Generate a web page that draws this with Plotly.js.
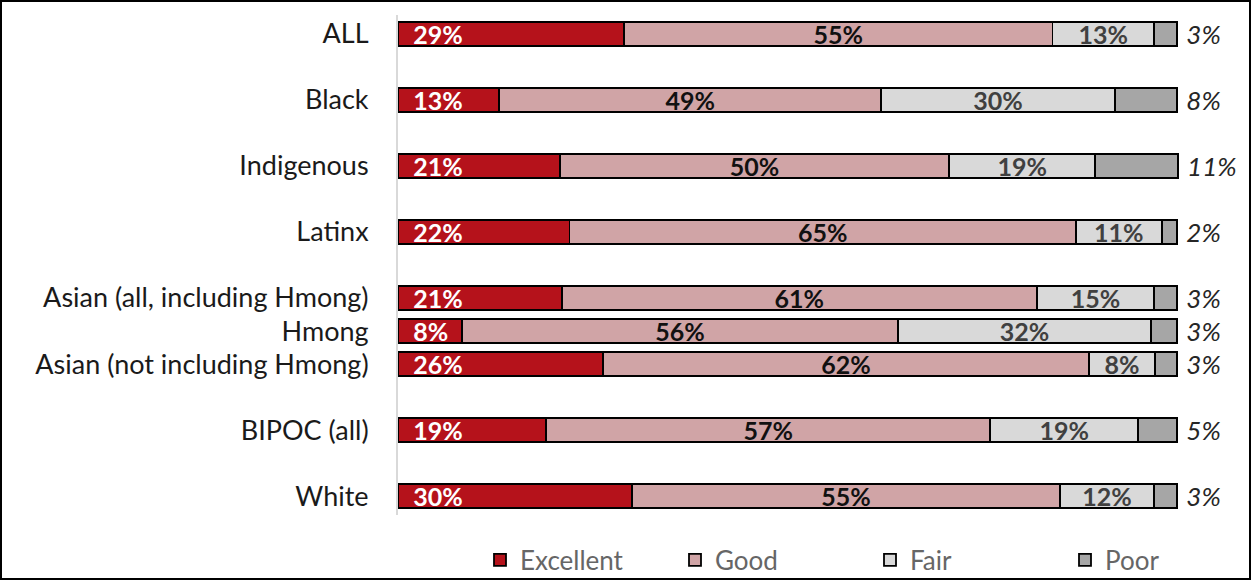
<!DOCTYPE html>
<html><head><meta charset="utf-8">
<script src="https://cdn.plot.ly/plotly-3.0.1.min.js"></script>
<style>
html,body{margin:0;padding:0;background:#fff;}
#wrap{position:relative;width:1251px;height:580px;}
#chart{width:1251px;height:580px;}
#frame{position:absolute;left:0;top:0;width:1251px;height:580px;box-sizing:border-box;border:2px solid #000;pointer-events:none;}
</style></head>
<body><div id="wrap"><div id="chart"></div><div id="frame"></div></div>
<script>
// ---- data ----
const categories = ["ALL","Black","Indigenous","Latinx","Asian (all, including Hmong)","Hmong","Asian (not including Hmong)","BIPOC (all)","White"];
const excellent = [29, 13, 20.8, 22, 21, 8.2, 26.3, 19, 30];
const good      = [55, 49, 49.9, 65, 61, 56.0, 62.4, 57, 55];
const fair      = [13, 30, 18.8, 11, 15, 32.4, 8.4, 19, 12];
const poor      = [3,  8,  10.6, 2,  3,  3.4, 2.9,  5,  3];
const seriesNames = ["Excellent","Good","Fair","Poor"];
// blank spacer slots inserted after these categories (layout only)
const spacerAfter = ["ALL","Black","Indigenous","Latinx","Asian (not including Hmong)","BIPOC (all)"];

const slots = [];
let sp = 0;
categories.forEach(c => { slots.push(c); if (spacerAfter.includes(c)) { sp++; slots.push(" ".repeat(sp)); } });

const FONT = "Lato, 'Open Sans', sans-serif";
const colors = ["#B5121B","#D0A4A6","#D9D9D9","#A6A6A6"];
const vals = [excellent, good, fair, poor];

const traces = vals.map((v, i) => {
  const t = {
    type: "bar", orientation: "h", name: seriesNames[i],
    y: categories, x: v,
    marker: {color: colors[i], line: {color: "#000", width: 1.8}},
    texttemplate: "%{x:.0f}%",
    hoverinfo: "skip",
    cliponaxis: false,
    constraintext: "none",
  };
  if (i === 0) {
    t.texttemplate = "\u00a0\u00a0%{x:.0f}%";
    t.textposition = "inside"; t.insidetextanchor = "start";
    t.insidetextfont = {family: FONT, size: 25, color: "#fff", weight: 700};
  } else if (i === 1) {
    t.textposition = "inside"; t.insidetextanchor = "middle";
    t.insidetextfont = {family: FONT, size: 25, color: "#111", weight: 700};
  } else if (i === 2) {
    t.textposition = "inside"; t.insidetextanchor = "middle";
    t.insidetextfont = {family: FONT, size: 25, color: "#404040", weight: 700};
  } else {
    t.texttemplate = "\u00a0%{x:.0f}%";
    t.textposition = "outside";
    t.outsidetextfont = {family: FONT, size: 26, color: "#262626", style: "italic"};
  }
  return t;
});

const layout = {
  width: 1251, height: 580,
  margin: {l: 398, r: 66, t: 15, b: 65, autoexpand: false},
  paper_bgcolor: "#fff", plot_bgcolor: "#fff",
  barmode: "stack", bargap: 0.27,
  showlegend: true,
  legend: {orientation: "h", x: (480 - 398) / 787, xanchor: "left", y: -0.09, yanchor: "middle",
           font: {family: FONT, size: 26, color: "#666"}, entrywidth: 150, traceorder: "normal"},
  xaxis: {range: [0, 101], showgrid: false, zeroline: false, showticklabels: false, showline: false, fixedrange: true},
  yaxis: {type: "category", categoryorder: "array", categoryarray: slots,
          range: [slots.length - 0.5 + 0.07, -0.5 - 0.07],
          showgrid: false, zeroline: false, showline: true, linecolor: "#D9D9D9", linewidth: 2,
          ticks: "", ticklabelstandoff: 22,
          tickfont: {family: FONT, size: 27, color: "#1a1a1a"}},
  font: {family: FONT},
};

Plotly.newPlot("chart", traces, layout, {displayModeBar: false, staticPlot: true});
</script></body></html>
